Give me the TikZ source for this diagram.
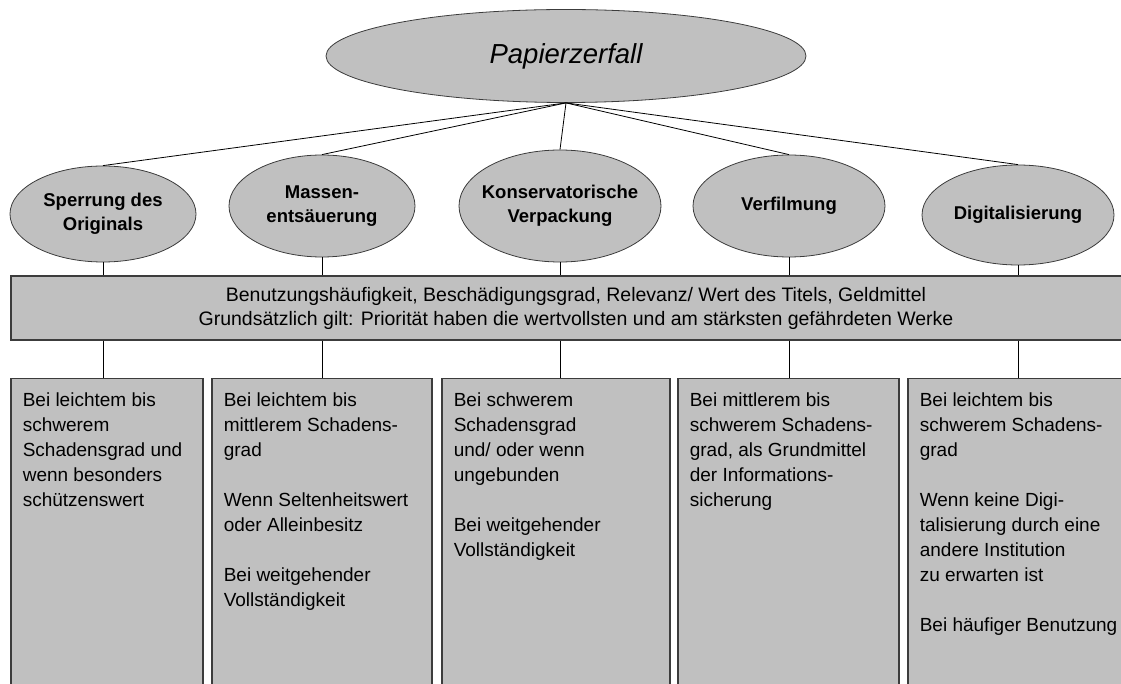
\documentclass[tikz,border=0pt]{standalone}
\usepackage{fontspec}
\setmainfont{Liberation Sans}
\usetikzlibrary{shapes.geometric}
\definecolor{fuell}{RGB}{192,192,192}
\definecolor{rand}{RGB}{60,60,60}
\newcommand{\elltext}[1]{\makebox[0pt]{\begin{tabular}{@{}c@{}}#1\end{tabular}}}
\begin{document}
\begin{tikzpicture}[x=1pt, y=-1pt, line width=0.8pt,
  massn/.style={draw=rand, fill=fuell, ellipse, inner sep=0pt, font=\fontsize{18.5}{24}\selectfont\bfseries},
  leiste/.style={draw=rand, fill=fuell, line width=1.2pt, inner sep=0pt, align=center, font=\fontsize{19.5}{24}\selectfont},
  kasten/.style={draw=rand, fill=fuell, line width=1.2pt, anchor=north, inner sep=0pt, minimum height=330pt},
  ktext/.style={anchor=north west, inner xsep=12pt, inner ysep=14pt, align=left, font=\fontsize{19}{25}\selectfont}]
\useasboundingbox (0,0) rectangle (1121,684);
\clip (0,0) rectangle (1121,684);
\node[massn, minimum width=480pt, minimum height=93pt, font=\fontsize{27.5}{30}\selectfont\itshape] (pz) at (566,56) {Papierzerfall};
\node[massn, minimum width=186pt, minimum height=96pt] (sp) at (103,214) {\elltext{Sperrung des\\Originals}};
\node[massn, minimum width=186pt, minimum height=102pt] (me) at (322,206) {\elltext{Massen-\\entsäuerung}};
\node[massn, minimum width=202pt, minimum height=112pt] (kv) at (560,206) {\elltext{Konservatorische\\Verpackung}};
\node[massn, minimum width=192pt, minimum height=102pt] (vf) at (789,206) {\elltext{Verfilmung}};
\node[massn, minimum width=192pt, minimum height=100pt] (dg) at (1018,215) {\elltext{Digitalisierung}};
\foreach \n in {sp,me,kv,vf,dg}
  \draw (pz.south) -- (\n.north);
\node[leiste, minimum width=1130pt, minimum height=64pt] (lz) at (576,308) {Benutzungshäufigkeit, Beschädigungsgrad, Relevanz/ Wert des Titels, Geldmittel\\Grundsätzlich gilt: Priorität haben die wertvollsten und am stärksten gefährdeten Werke};
\node[kasten, minimum width=192pt] (b1) at (107,378) {};
\node[kasten, minimum width=220pt] (b2) at (322,378) {};
\node[kasten, minimum width=228pt] (b3) at (556,378) {};
\node[kasten, minimum width=221pt] (b4) at (788.5,378) {};
\node[kasten, minimum width=227pt] (b5) at (1021.5,378) {};
\node[ktext] (t1) at (b1.north west) {Bei leichtem bis\\schwerem\\Schadensgrad und\\wenn besonders\\schützenswert};
\node[ktext] (t2) at (b2.north west) {Bei leichtem bis\\mittlerem Schadens-\\grad\\[25pt]Wenn Seltenheitswert\\oder Alleinbesitz\\[25pt]Bei weitgehender\\Vollständigkeit};
\node[ktext] (t3) at (b3.north west) {Bei schwerem\\Schadensgrad\\und/ oder wenn\\ungebunden\\[25pt]Bei weitgehender\\Vollständigkeit};
\node[ktext] (t4) at (b4.north west) {Bei mittlerem bis\\schwerem Schadens-\\grad, als Grundmittel\\der Informations-\\sicherung};
\node[ktext] (t5) at (b5.north west) {Bei leichtem bis\\schwerem Schadens-\\grad\\[25pt]Wenn keine Digi-\\talisierung durch eine\\andere Institution\\zu erwarten ist\\[25pt]Bei häufiger Benutzung};
\foreach \n/\b in {sp/b1,me/b2,kv/b3,vf/b4,dg/b5} {
  \draw (\n.south) -- (\n.south |- lz.north);
  \draw (\n.south |- lz.south) -- (\n.south |- \b.north);
}
\end{tikzpicture}
\end{document}
